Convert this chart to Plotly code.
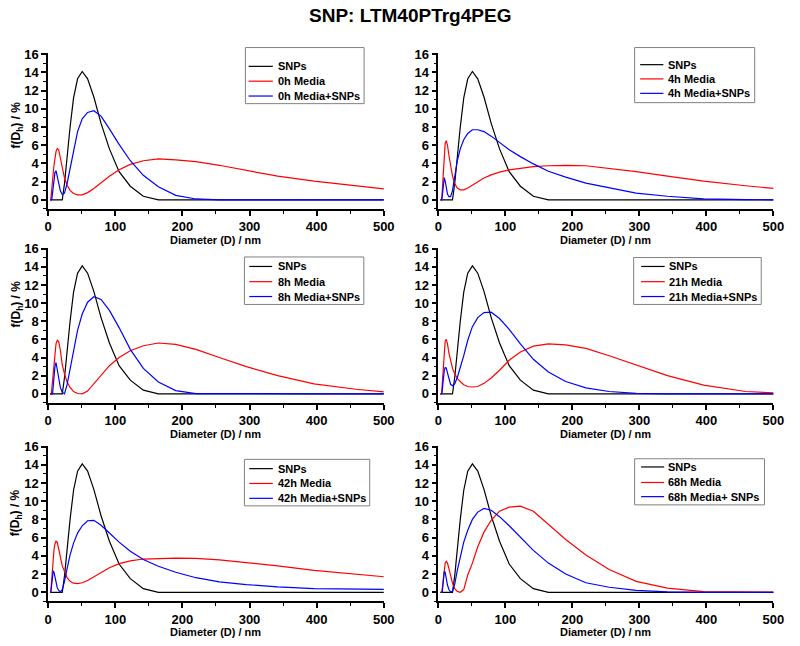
import plotly.graph_objects as go

# ---------------- data ----------------
diameter_nm = [3.122, 3.615, 4.187, 4.849, 5.615, 6.503, 7.531, 8.721, 10.1, 11.7,
               13.54, 15.69, 18.17, 21.04, 24.36, 28.21, 32.67, 37.84, 43.82, 50.75,
               58.77, 68.06, 78.82, 91.28, 105.7, 122.4, 141.8, 164.2, 190.1, 220.2,
               255.0, 295.3, 342.0, 396.1, 458.7, 531.2]

snps = [0, 0, 0, 0, 0, 0, 0, 0, 0, 0,
        0, 0, 0, 0, 1.8, 4.9, 8.0, 11.2, 13.3, 14.1,
        13.3, 11.3, 8.4, 5.6, 3.1, 1.5, 0.4, 0, 0, 0,
        0, 0, 0, 0, 0, 0]

media_0h = [0, 0, 0.2, 0.6, 1.2, 2.0, 2.9, 3.8, 4.6, 5.3,
            5.65, 5.5, 4.6, 3.4, 2.4, 1.6, 1.05, 0.7, 0.55, 0.55,
            0.8, 1.25, 1.9, 2.6, 3.3, 3.9, 4.3, 4.5, 4.4, 4.2,
            3.8, 3.25, 2.6, 2.05, 1.5, 0.95]
mix_0h = [0, 0, 0, 0, 0.2, 0.7, 1.4, 2.2, 3.0, 3.2,
          2.6, 1.7, 1.0, 0.6, 0.75, 1.8, 3.4, 5.5, 7.5, 8.9,
          9.6, 9.8, 9.2, 7.8, 6.1, 4.3, 2.7, 1.45, 0.5, 0.1,
          0, 0, 0, 0, 0, 0]

media_4h = [0, 0, 0, 0, 0.8, 2.2, 3.8, 5.2, 6.2, 6.5,
            6.0, 4.9, 3.7, 2.6, 1.8, 1.3, 1.1, 1.1, 1.3, 1.6,
            2.0, 2.4, 2.75, 3.05, 3.3, 3.5, 3.65, 3.75, 3.8, 3.75,
            3.45, 3.1, 2.6, 2.05, 1.55, 1.05]
mix_4h = [0, 0, 0, 0, 0.3, 1.0, 1.9, 2.45, 2.1, 1.3,
          0.65, 0.35, 0.35, 1.0, 2.5, 4.3, 5.6, 6.6, 7.3, 7.7,
          7.7, 7.5, 7.0, 6.3, 5.5, 4.75, 3.95, 3.15, 2.5, 1.85,
          1.35, 0.75, 0.4, 0.12, 0.02, 0]

media_8h = [0, 0, 0, 0.1, 0.7, 1.6, 2.7, 3.8, 4.8, 5.5,
            5.9, 5.75, 4.8, 3.2, 2.2, 1.3, 0.7, 0.25, 0.03, 0,
            0.3, 1.1, 2.1, 3.1, 4.0, 4.75, 5.3, 5.6, 5.45, 4.9,
            4.0, 3.0, 2.0, 1.1, 0.5, 0.0]
mix_8h = [0, 0, 0, 0, 0, 0, 0.8, 2.0, 3.0, 3.45,
          2.7, 1.6, 0.7, 0.15, 0, 1.0, 2.8, 4.9, 7.0, 8.8,
          10.1, 10.7, 10.4, 9.2, 7.3, 4.9, 2.8, 1.3, 0.35, 0.02,
          0, 0, 0, 0, 0, 0]

media_21h = [0, 0, 0, 0.1, 1.0, 2.4, 3.8, 5.0, 5.8, 6.0,
             5.5, 4.5, 3.5, 2.8, 2.2, 1.7, 1.35, 1.0, 0.8, 0.75,
             0.8, 1.15, 1.75, 2.6, 3.7, 4.6, 5.25, 5.5, 5.4, 5.0,
             4.2, 3.15, 2.0, 0.95, 0.25, 0.0]
mix_21h = [0, 0, 0, 0, 0.3, 1.0, 1.9, 2.55, 2.9, 2.85,
           2.3, 1.6, 1.05, 0.9, 1.1, 1.8, 2.8, 4.2, 5.9, 7.4,
           8.4, 8.95, 9.0, 8.3, 7.1, 5.5, 3.8, 2.4, 1.35, 0.65,
           0.25, 0.05, 0, 0, 0, 0]

media_42h = [0, 0, 0.3, 1.0, 1.9, 2.9, 3.8, 4.7, 5.3, 5.6,
             5.5, 4.8, 3.8, 2.9, 2.3, 1.6, 1.2, 1.0, 0.95, 1.05,
             1.3, 1.7, 2.2, 2.7, 3.15, 3.45, 3.65, 3.73, 3.75, 3.72,
             3.55, 3.25, 2.9, 2.4, 1.95, 1.5]
mix_42h = [0, 0, 0.1, 0.6, 1.3, 2.0, 2.35, 2.2, 1.6, 1.0,
           0.5, 0.2, 0.05, 0.3, 1.2, 2.6, 4.1, 5.4, 6.5, 7.3,
           7.85, 7.9, 7.35, 6.5, 5.5, 4.5, 3.6, 2.85, 2.2, 1.6,
           1.15, 0.85, 0.6, 0.4, 0.32, 0.3]

media_68h = [0, 0, 0, 0, 0.3, 1.0, 1.9, 2.7, 3.2, 3.4,
             3.2, 2.6, 1.9, 1.0, 0.4, 0.1, 0, 0.3, 1.9, 3.2,
             5.0, 6.6, 7.9, 8.9, 9.35, 9.45, 8.9, 7.5, 5.8, 4.1,
             2.5, 1.2, 0.45, 0.08, 0, 0]
mix_68h = [0, 0, 0, 0, 0, 0.6, 1.6, 2.3, 2.2, 1.5,
           0.8, 0.3, 0.05, 0.1, 0.9, 2.4, 4.0, 5.5, 6.8, 8.0,
           8.8, 9.2, 9.0, 8.3, 7.3, 6.0, 4.6, 3.2, 2.0, 1.05,
           0.55, 0.2, 0.05, 0, 0, 0]

media_labels = ["0h Media", "4h Media", "8h Media", "21h Media", "42h Media", "68h Media"]
mix_labels = ["0h Media+SNPs", "4h Media+SNPs", "8h Media+SNPs", "21h Media+SNPs",
              "42h Media+SNPs", "68h Media+ SNPs"]
media_series = [media_0h, media_4h, media_8h, media_21h, media_42h, media_68h]
mix_series = [mix_0h, mix_4h, mix_8h, mix_21h, mix_42h, mix_68h]

x_ticks = [0, 100, 200, 300, 400, 500]
y_ticks = [0, 2, 4, 6, 8, 10, 12, 14, 16]

# ---------------- layout geometry (pixels in the 800x646 page) ----------------
W, H = 800, 646
col_px = [(45, 387), (442.7, 784)]
row_px = [(46.8, 204.2), (243.4, 400.2), (443.4, 600.9)]
# legend boxes: (left, top, right, bottom), sample line x0, x1, text x, row centres
legend_geo = [
    ((246, 41, 367, 97.7), 249.3, 274, 276.7, [60, 75, 90]),
    ((642.7, 41, 765, 96.7), 648.3, 672, 674.5, [58.3, 72.7, 87.3]),
    ((245, 252.7, 366.7, 300.7), 250, 273.3, 276.7, [262.3, 277.7, 292.7]),
    ((641.7, 253.3, 771.7, 300.7), 649.3, 673.3, 676, [262.3, 277.7, 292.7]),
    ((245, 457.3, 372.7, 504.3), 250, 274, 276.7, [466.7, 481.7, 496.7]),
    ((642.7, 456.7, 775, 503.3), 649.3, 672.7, 675, [465, 480.7, 495]),
]

FONT = "Liberation Sans, Arial, sans-serif"
COLORS = ["#000000", "#FF0000", "#0000FF"]


def px_x(v):
    return v / W


def px_y(v):
    return 1 - v / H


fig = go.Figure()
layout = {}
annotations = []
shapes = []
for i in range(6):
    r, c = divmod(i, 2)
    n = i + 1
    xa = "x" if n == 1 else f"x{n}"
    ya = "y" if n == 1 else f"y{n}"
    names = ["SNPs", media_labels[i], mix_labels[i]]
    series = [snps, media_series[i], mix_series[i]]
    for name, ys, color in zip(names, series, COLORS):
        fig.add_trace(go.Scatter(x=diameter_nm, y=ys, mode="lines", name=name,
                                 line=dict(color=color, width=1.2),
                                 xaxis=xa, yaxis=ya, showlegend=False))
    x0, x1 = col_px[c]
    t0, t1 = row_px[r]
    axis_common = dict(showline=True, linecolor="black", linewidth=1.5, mirror=False,
                       showgrid=False, zeroline=False, ticks="outside", ticklen=5,
                       tickwidth=1.5, tickcolor="black",
                       tickfont=dict(family=FONT, size=13, color="black", weight="bold"))
    layout["xaxis" if n == 1 else f"xaxis{n}"] = dict(
        domain=[px_x(x0), px_x(x1)], range=[0, 500], tickvals=x_ticks,
        anchor=ya, minor=dict(dtick=50, ticklen=3, tickwidth=1.2, tickcolor="black", ticks="outside"),
        **axis_common)
    layout["yaxis" if n == 1 else f"yaxis{n}"] = dict(
        domain=[px_y(t1), px_y(t0)], range=[-1, 16.1], tickvals=y_ticks,
        anchor=xa, minor=dict(dtick=1, tick0=0, ticklen=3, tickwidth=1.2, tickcolor="black", ticks="outside"),
        **axis_common)

    # legend box (drawn in page coordinates)
    (bl, bt, br, bb), lx0, lx1, tx, rows = legend_geo[i]
    shapes.append(dict(type="rect", xref="paper", yref="paper",
                       x0=px_x(bl), x1=px_x(br), y0=px_y(bb), y1=px_y(bt),
                       line=dict(color="#808080", width=1), fillcolor="white", layer="above"))
    for name, color, ry in zip(names, COLORS, rows):
        shapes.append(dict(type="line", xref="paper", yref="paper",
                           x0=px_x(lx0), x1=px_x(lx1), y0=px_y(ry), y1=px_y(ry),
                           line=dict(color=color, width=1.2), layer="above"))
        annotations.append(dict(text=name, x=px_x(tx), y=px_y(ry), xref="paper", yref="paper",
                                xanchor="left", yanchor="middle", showarrow=False,
                                font=dict(family=FONT, size=11, color="black", weight="bold")))

    # x-axis title
    annotations.append(dict(text="Diameter (D) / nm", x=px_x((x0 + x1) / 2), y=px_y(t1 + 31),
                            xref="paper", yref="paper", xanchor="center", yanchor="middle",
                            showarrow=False,
                            font=dict(family=FONT, size=11, color="black", weight="bold")))

# y-axis titles (left column only)
for yc in [119, 300, 511]:
    annotations.append(dict(text="f(D<sub>h</sub>) / %", x=px_x(13), y=px_y(yc),
                            xref="paper", yref="paper", xanchor="center", yanchor="middle",
                            textangle=-90, showarrow=False,
                            font=dict(family=FONT, size=12, color="black", weight="bold")))

fig.update_layout(
    width=W, height=H,
    margin=dict(l=0, r=0, t=0, b=0),
    paper_bgcolor="white", plot_bgcolor="white",
    title=dict(text="SNP: LTM40PTrg4PEG", x=414 / W, y=1 - 15 / H, xanchor="center", yanchor="middle",
               xref="paper", yref="container",
               font=dict(family=FONT, size=19, color="black", weight="bold")),
    annotations=annotations,
    shapes=shapes,
    **layout,
)

# remove the browser's default 8px body margin so the figure fills the page exactly
fig.write_html("out.html", config={"displayModeBar": False},
               post_script="document.body.style.margin='0px';")
